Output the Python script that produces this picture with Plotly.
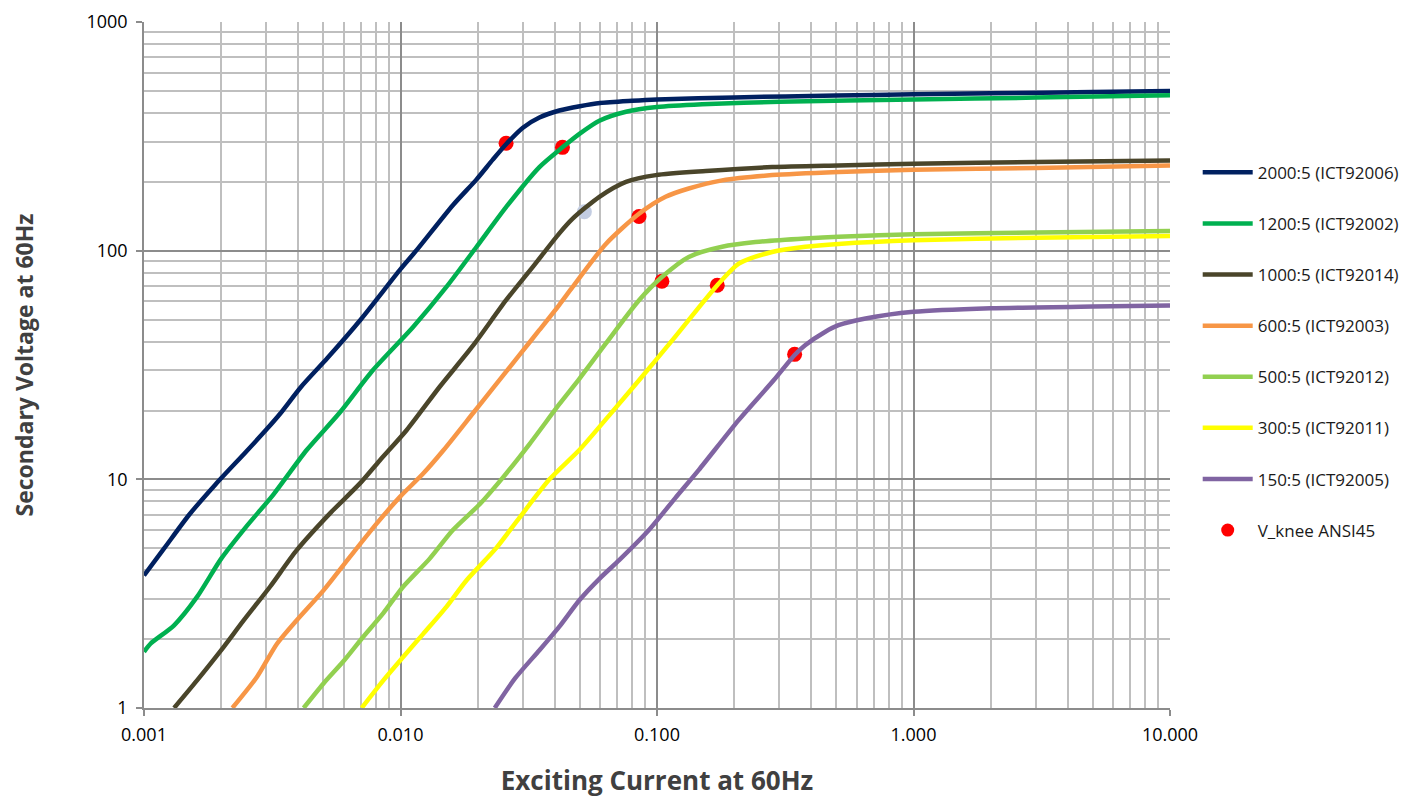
import plotly.graph_objects as go

# ---- data ----
names = ["2000:5 (ICT92006)", "1200:5 (ICT92002)", "1000:5 (ICT92014)", "600:5 (ICT92003)",
         "500:5 (ICT92012)", "300:5 (ICT92011)", "150:5 (ICT92005)"]
colors = ["#002060", "#00B050", "#4A452A", "#F79646", "#92D050", "#FFFF00", "#8064A2"]

x_2000 = [0.001, 0.0012, 0.0015, 0.0019, 0.0025, 0.0030, 0.0034, 0.0041, 0.0052, 0.0070, 0.0100, 0.0116,
          0.0160, 0.0198, 0.0229, 0.0258, 0.0300, 0.0348, 0.0416, 0.050, 0.060, 0.080, 0.100, 0.200,
          0.500, 1.0, 2.0, 5.0, 10.0]
y_2000 = [3.8, 5.0, 7.0, 9.5, 13.2, 16.5, 19.4, 25.4, 34, 50, 83, 101, 158, 205, 250, 292, 345, 382,
          410, 428, 442, 452, 458, 468, 477, 483, 488, 494, 499]

x_1200 = [0.001, 0.00106, 0.00131, 0.00161, 0.0020, 0.0025, 0.0032, 0.0043, 0.0058, 0.0078, 0.0112,
          0.0151, 0.0198, 0.0258, 0.0348, 0.0428, 0.050, 0.0596, 0.0757, 0.100, 0.150, 0.300, 1.0, 3.0, 10.0]
y_1200 = [1.76, 1.91, 2.3, 3.06, 4.5, 6.2, 8.6, 13.4, 19.6, 30, 46.4, 69.4, 104, 155, 232, 283, 325,
          370, 405, 425, 437, 448, 458, 467, 478]

x_1000 = [0.00131, 0.00161, 0.0020, 0.00245, 0.0031, 0.00394, 0.00531, 0.00695, 0.0083, 0.01056, 0.01422,
          0.0192, 0.0258, 0.0328, 0.0416, 0.0469, 0.0596, 0.0757, 0.099, 0.155, 0.281, 0.51, 1.0, 3.0, 10.0]
y_1000 = [1.0, 1.32, 1.79, 2.42, 3.39, 4.9, 7.1, 9.6, 12.1, 16.4, 25.4, 38.5, 60.7, 84.9, 119, 138, 172,
          200, 214, 223, 232, 236, 240, 244, 248]

x_600 = [0.00221, 0.00276, 0.0033, 0.00394, 0.00501, 0.00635, 0.00807, 0.00997, 0.01226, 0.0147, 0.0192,
         0.0229, 0.0291, 0.0348, 0.0416, 0.0469, 0.0632, 0.0851, 0.108, 0.133, 0.1795, 0.281, 0.51, 1.0,
         3.0, 10.0]
y_600 = [1.0, 1.37, 1.91, 2.42, 3.27, 4.58, 6.4, 8.4, 10.6, 13.4, 19.5, 25, 35, 45, 58, 69.4, 107, 145,
         172, 187, 203, 214, 221, 226, 230, 236]

x_500 = [0.00419, 0.00501, 0.00599, 0.00716, 0.00857, 0.01024, 0.013, 0.016, 0.0204, 0.0251, 0.0319,
         0.0416, 0.0498, 0.0632, 0.0851, 0.1045, 0.133, 0.1795, 0.242, 0.378, 0.51, 1.0, 3.0, 10.0]
y_500 = [1.0, 1.28, 1.6, 2.05, 2.6, 3.39, 4.5, 6.0, 7.8, 10.2, 14.3, 21.3, 27.5, 39.3, 60.7, 76.7,
         93.9, 104, 109, 113, 115, 118, 120, 122]

x_300 = [0.00706, 0.00857, 0.01024, 0.01226, 0.0151, 0.0181, 0.0236, 0.0291, 0.0381, 0.050, 0.065,
         0.0851, 0.1148, 0.1718, 0.2085, 0.281, 0.378, 0.51, 1.0, 3.0, 10.0]
y_300 = [1.0, 1.32, 1.67, 2.11, 2.77, 3.62, 5.0, 6.8, 10, 13.5, 19, 27.1, 40.6, 70.6, 87.8, 98.7, 104,
         107, 111, 114, 116]

x_150 = [0.0233, 0.0280, 0.0348, 0.042, 0.0498, 0.060, 0.0712, 0.093, 0.118, 0.1456, 0.2085, 0.285,
         0.344, 0.378, 0.45, 0.51, 0.65, 1.0, 2.0, 5.0, 10.0]
y_150 = [1.0, 1.35, 1.79, 2.3, 2.96, 3.7, 4.43, 6.0, 8.3, 11, 18.2, 27.1, 35, 38.6, 44, 47.2, 50.5, 54,
         56, 57, 57.5]

x_knee = [0.0258, 0.0428, 0.0521, 0.0851, 0.1045, 0.1718, 0.344]
y_knee = [295, 283, 148, 141, 73.5, 70.6, 35.2]
knee_colors = ["#FF0000", "#FF0000", "#C3CDE2", "#FF0000", "#FF0000", "#FF0000", "#FF0000"]

x_tickvals = [0.001, 0.01, 0.1, 1, 10]
x_ticktext = ["0.001", "0.010", "0.100", "1.000", "10.000"]
y_tickvals = [1, 10, 100, 1000]
y_ticktext = ["1", "10", "100", "1000"]

series_x = [x_2000, x_1200, x_1000, x_600, x_500, x_300, x_150]
series_y = [y_2000, y_1200, y_1000, y_600, y_500, y_300, y_150]

FONT = "Open Sans, sans-serif"

fig = go.Figure()

# knee markers (drawn beneath lines, listed last in legend)
fig.add_trace(go.Scatter(
    x=x_knee, y=y_knee, mode="markers", name="V_knee ANSI45",
    marker=dict(color=knee_colors, size=15, line=dict(width=0)),
    legendrank=8, legendgroup="knee", showlegend=False))
# legend proxy (red dot)
fig.add_trace(go.Scatter(
    x=[None], y=[None], mode="markers", name="V_knee ANSI45",
    marker=dict(color="#FF0000", size=13), legendrank=8, legendgroup="knee"))

for i, (nm, c, xs, ys) in enumerate(zip(names, colors, series_x, series_y)):
    fig.add_trace(go.Scatter(
        x=xs, y=ys, mode="lines", name=nm,
        line=dict(color=c, width=4.5, shape="spline", smoothing=0.7),
        legendrank=i + 1, legendgroup=nm))

grid_major = "#8C8C8C"
grid_minor = "#BFBFBF"

fig.update_layout(
    width=1408, height=800,
    paper_bgcolor="white", plot_bgcolor="white",
    margin=dict(l=136, r=244, t=14, b=100),
    font=dict(family=FONT, color="#000000"),
    legend=dict(x=1.027, xanchor="left", y=0.52, yanchor="middle",
                font=dict(family=FONT, size=17, color="#1a1a1a"),
                tracegroupgap=26, bgcolor="rgba(0,0,0,0)", itemwidth=50),
    xaxis=dict(
        type="log", range=[-3, 1], automargin=False,
        tickvals=x_tickvals, ticktext=x_ticktext,
        tickfont=dict(family=FONT, size=18, color="#000000"),
        ticklabelstandoff=4,
        showgrid=True, gridcolor=grid_major, gridwidth=1.5,
        minor=dict(dtick="D1", showgrid=True, gridcolor=grid_minor, gridwidth=1.5, ticks=""),
        showline=True, linecolor=grid_major, linewidth=1.5,
        ticks="outside", ticklen=6, tickcolor=grid_major, tickwidth=1.5,
        zeroline=False,
        title=dict(text="<b>Exciting Current at 60Hz</b>", standoff=26,
                   font=dict(family=FONT, size=26, color="#404040")),
    ),
    yaxis=dict(
        type="log", range=[0, 3], automargin=False,
        tickvals=y_tickvals, ticktext=y_ticktext,
        tickfont=dict(family=FONT, size=18, color="#000000"),
        ticklabelstandoff=5,
        showgrid=True, gridcolor=grid_major, gridwidth=1.5,
        minor=dict(dtick="D1", showgrid=True, gridcolor=grid_minor, gridwidth=1.5, ticks=""),
        showline=True, linecolor=grid_major, linewidth=1.5,
        ticks="outside", ticklen=6, tickcolor=grid_major, tickwidth=1.5,
        zeroline=False,
        title=dict(text="<b>Secondary Voltage at 60Hz</b>", standoff=52,
                   font=dict(family=FONT, size=23, color="#404040")),
    ),
)

fig.write_html("out.html")
